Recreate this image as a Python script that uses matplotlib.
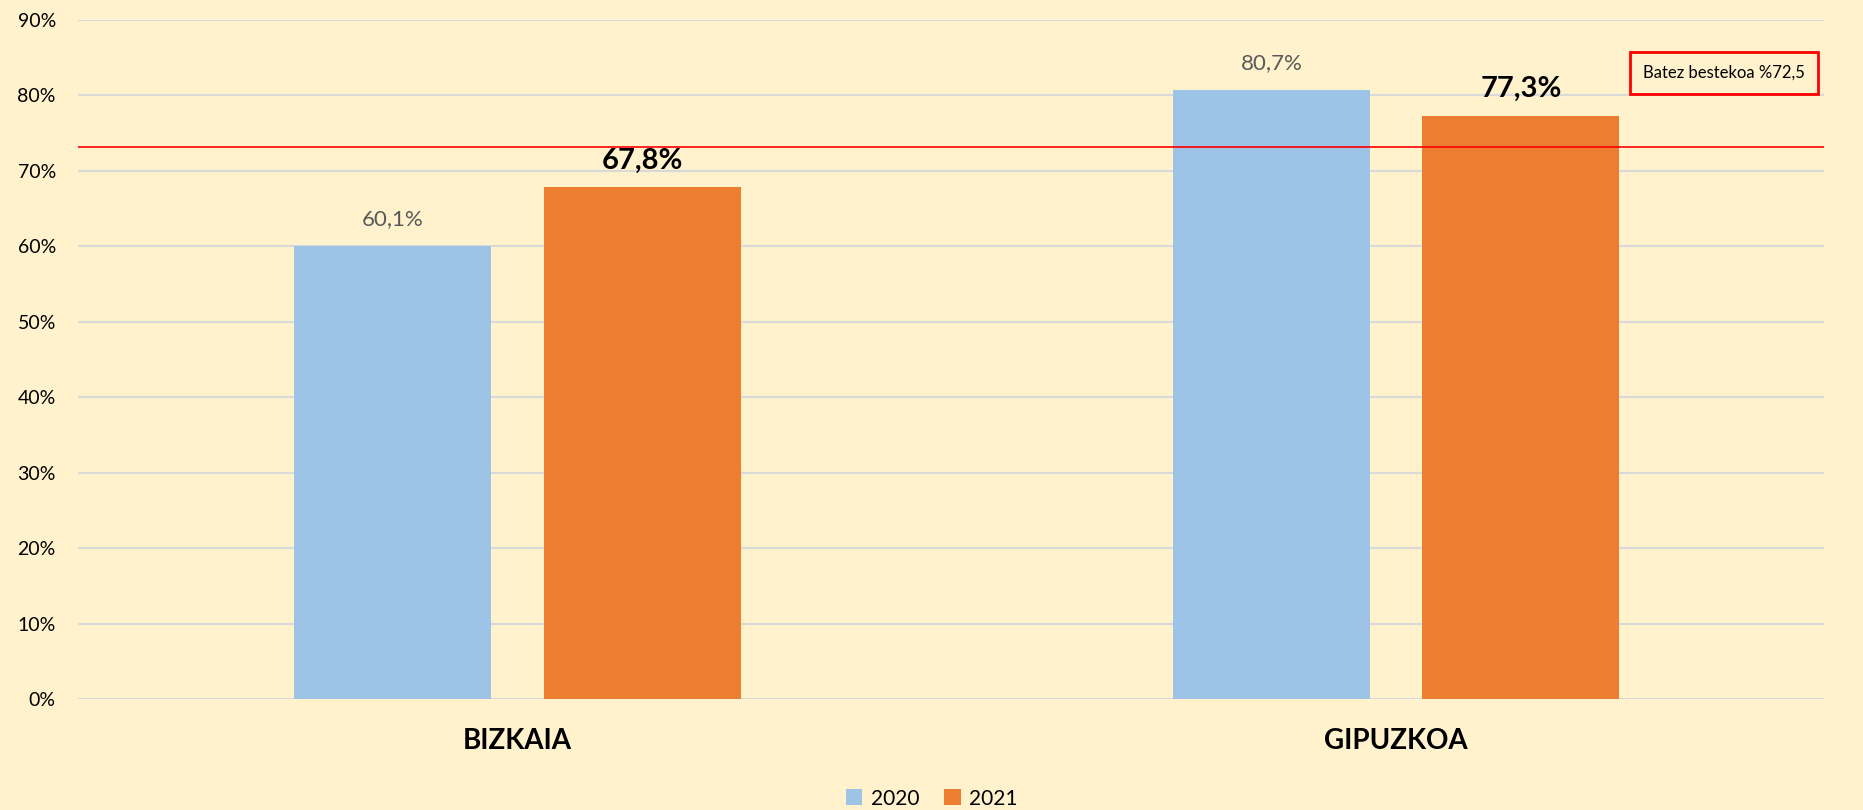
import matplotlib.pyplot as plt
import numpy as np

plt.rcParams['font.family'] = ['Lato', 'DejaVu Sans']

categories = ['BIZKAIA', 'GIPUZKOA']
years = ['2020', '2021']
values_2020 = [60.1, 80.7]
values_2021 = [67.8, 77.3]
labels_2020 = ['60,1%', '80,7%']
labels_2021 = ['67,8%', '77,3%']
average_line = 73.2
average_text = 'Batez bestekoa %72,5'
yticks = [0, 10, 20, 30, 40, 50, 60, 70, 80, 90]

bg = '#FFF2CC'
blue = '#9DC3E6'
orange = '#ED7D31'

fig = plt.figure(figsize=(18.63, 8.10), dpi=100, facecolor=bg)
ax = fig.add_axes([0.0419, 0.137, 0.9372, 0.8383], facecolor=bg)

x = np.arange(len(categories))
w = 0.224
off = 0.142
b1 = ax.bar(x - off, values_2020, w, color=blue, label=years[0], zorder=2)
b2 = ax.bar(x + off, values_2021, w, color=orange, label=years[1], zorder=2)

for rect, lab in zip(b1, labels_2020):
    ax.annotate(lab, (rect.get_x() + rect.get_width() / 2, rect.get_height()),
                xytext=(0, 12), textcoords='offset points', ha='center', va='bottom',
                fontsize=16, color='#595959')
for rect, lab in zip(b2, labels_2021):
    ax.annotate(lab, (rect.get_x() + rect.get_width() / 2, rect.get_height()),
                xytext=(0, 10), textcoords='offset points', ha='center', va='bottom',
                fontsize=21, color='black', fontweight='bold')

ax.axhline(average_line, color='#FF0000', lw=1.2, zorder=3)

ax.set_xlim(-0.5, 1.487)
ax.set_ylim(0, 90)
ax.set_yticks(yticks)
ax.set_yticklabels([f'{t}%' for t in yticks], fontsize=14)
ax.set_xticks(x)
ax.set_xticklabels(categories, fontsize=20, fontweight='bold')
ax.tick_params(axis='y', length=0, pad=16)
ax.tick_params(axis='x', length=0, pad=21)
ax.yaxis.grid(True, color='#D9D9D9', lw=1.5, zorder=0)
ax.set_axisbelow(True)
for s in ax.spines.values():
    s.set_visible(False)

fig.text(0.9254, 0.91, average_text, ha='center', va='center', fontsize=12,
         bbox=dict(boxstyle='square,pad=0.8', fc=bg, ec='#FF0000', lw=2))

fig.legend(loc='center', bbox_to_anchor=(0.5, 0.014), ncol=2, frameon=False,
           fontsize=15, handlelength=0.8, handleheight=0.8, columnspacing=1.2,
           handletextpad=0.4)

fig.savefig('out.png', dpi=100, facecolor=bg)
